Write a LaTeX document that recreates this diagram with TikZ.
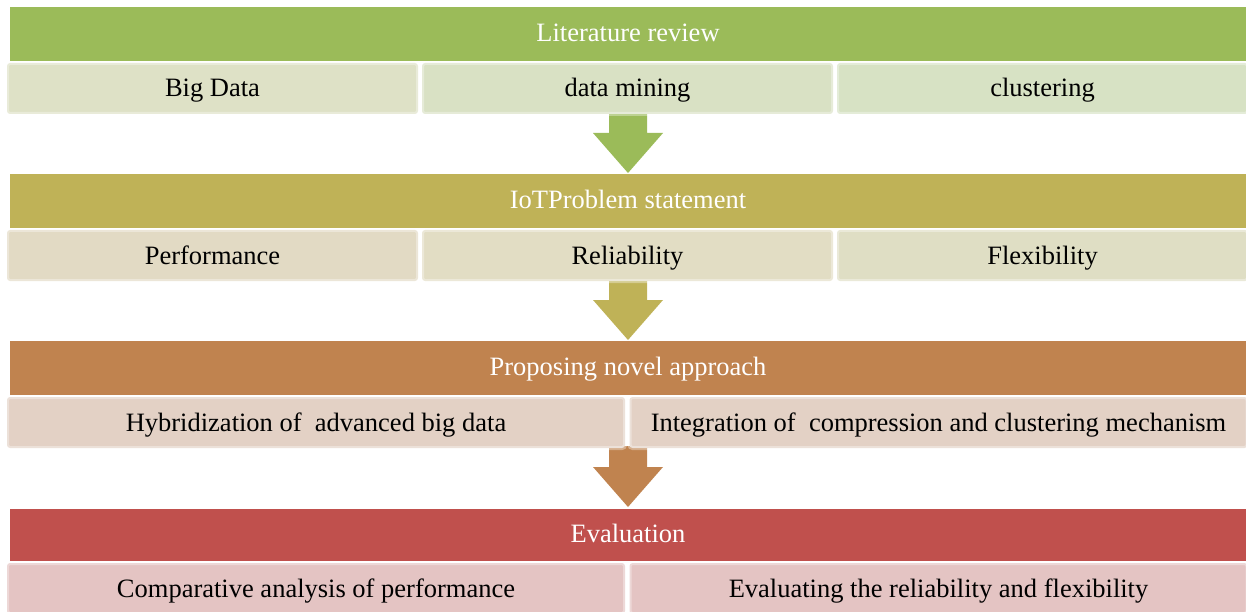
\documentclass[tikz,border=0pt]{standalone}
\usepackage{fontspec}
\setmainfont{Liberation Serif}
\definecolor{hA}{HTML}{9BBB59}
\definecolor{hB}{HTML}{BFB257}
\definecolor{hC}{HTML}{C0834F}
\definecolor{hD}{HTML}{C0504D}
\definecolor{sA1}{HTML}{DEE1C6}
\definecolor{sA2}{HTML}{D9E1C4}
\definecolor{sA3}{HTML}{D7E2C4}
\definecolor{sB1}{HTML}{E2DAC4}
\definecolor{sB2}{HTML}{E2DDC4}
\definecolor{sB3}{HTML}{DFDEC4}
\definecolor{sC}{HTML}{E3D1C5}
\definecolor{sD}{HTML}{E4C4C3}
\newcommand\flowarrow[2]{%
  \fill[#1] (609,#2-4) -- (647,#2-4) -- (647,{#2+17}) -- (663,{#2+17}) -- (628,{#2+57})
    -- (593,{#2+17}) -- (609,{#2+17}) -- cycle;}
\begin{document}
\begin{tikzpicture}[x=1pt,y=-1pt,
  header/.style={fill=#1, draw=none, text=white, inner sep=0pt,
    text height=19pt, text depth=3.5pt,
    minimum width=1236pt, minimum height=54pt, font=\fontsize{26.5}{30}\selectfont},
  subbox/.style={fill=#1, draw=white, draw opacity=0.35, line width=4pt,
    rounded corners=3pt, inner sep=0pt, minimum height=51pt, text=black,
    text height=19pt, text depth=2pt,
    font=\fontsize{26.5}{30}\selectfont},
  third/.style={minimum width=411pt},
  half/.style={minimum width=618pt}]
\useasboundingbox (0,0) rectangle (1246,612);
% arrows (behind)
\flowarrow{hA}{116}
\flowarrow{hB}{283}
\flowarrow{hC}{450}
% row 1
\node[subbox=sA1, third] (b11) at (212.5,88.5) {Big Data};
\node[subbox=sA2, third] (b12) at (627.5,88.5) {data mining};
\node[subbox=sA3, third] (b13) at (1042.5,88.5) {clustering};
\node[header=hA] (h1) at (628,34) {Literature review};
% row 2
\node[subbox=sB1, third] (b21) at (212.5,255.5) {Performance};
\node[subbox=sB2, third] (b22) at (627.5,255.5) {Reliability};
\node[subbox=sB3, third] (b23) at (1042.5,255.5) {Flexibility};
\node[header=hB] (h2) at (628,201) {IoTProblem statement};
% row 3
\node[subbox=sC, half] (b31) at (316,422.5) {Hybridization of\ \ advanced big data};
\node[subbox=sC, half] (b32) at (938.5,422.5) {Integration of\ \ compression and clustering mechanism};
\node[header=hC] (h3) at (628,368) {Proposing novel approach};
% row 4
\node[subbox=sD, half] (b41) at (316,588.5) {Comparative analysis of performance};
\node[subbox=sD, half] (b42) at (938.5,588.5) {Evaluating the reliability and flexibility};
\node[header=hD, minimum height=52pt] (h4) at (628,535) {Evaluation};
\end{tikzpicture}
\end{document}
